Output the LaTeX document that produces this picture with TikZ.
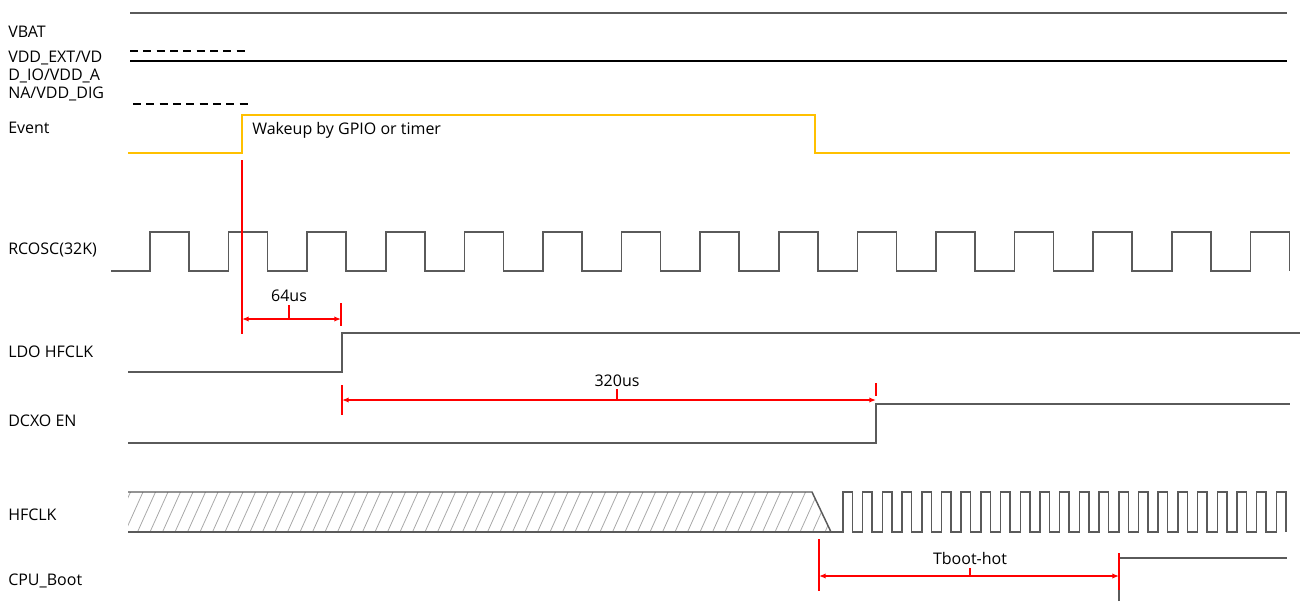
\documentclass[tikz,border=0pt]{standalone}
\usepackage{fontspec}
\setmainfont{Open Sans}
\usetikzlibrary{arrows.meta}
\definecolor{sig}{HTML}{5A5A5A}
\definecolor{evt}{HTML}{FFC000}
\definecolor{meas}{HTML}{FF0000}
\definecolor{hatchgray}{HTML}{A8A8A8}
\begin{document}
\begin{tikzpicture}[
    x=0.75pt, y=-0.75pt,
    font=\fontsize{12}{13.5}\selectfont,
    signame/.style={
      anchor=west,
      inner sep=0pt,
      align=left
    },
    wave/.style={draw=sig, line width=1.1pt},
    evtwave/.style={draw=evt, line width=1.1pt},
    dimline/.style={
      draw=meas,
      line width=1.1pt,
      {Latex[length=5pt,width=4pt]}-{Latex[length=5pt,width=4pt]}
    },
    dimtick/.style={draw=meas, line width=1.1pt}
  ]
    \useasboundingbox (0,0) rectangle (1303,601);

    % signal names
    \node (vbat) at (8,32) [signame] {VBAT};
    \node (vdd) at (8,76) [signame] {VDD\_EXT/VD\\D\_IO/VDD\_A\\NA/VDD\_DIG};
    \node (event) at (8,128) [signame] {Event};
    \node (rcosc) at (8,250) [signame] {RCOSC(32K)};
    \node (ldo) at (8,352) [signame] {LDO HFCLK};
    \node (dcxo) at (8,421) [signame] {DCXO EN};
    \node (hfclk) at (8,515) [signame] {HFCLK};
    \node (cpu) at (8,581) [signame] {CPU\_Boot};

    % supplies
    \draw[wave, line width=1.5pt] (130,13) -- (1287,13);
    \draw[black, line width=0.8pt, dash pattern=on 6pt off 4pt] (130,51) -- (248,51);
    \draw[black, line width=0.8pt] (130,61) -- (1287,61);
    \draw[black, line width=0.8pt, dash pattern=on 6pt off 4pt] (133,104) -- (252,104);

    % wakeup event
    \draw[evtwave] (128,153) -- (242,153) -- (242,115) -- (815,115) -- (815,153) -- (1290,153);
    \node (wakeup) at (252,130) [signame] {Wakeup by GPIO or timer};

    % 32K clock
    \draw[wave] (111,271)
      \foreach \k in {0,...,14}{ -- ({150+78.6*\k},271) -- ++(0,-39) -- ++(39,0) -- ++(0,39) };

    % LDO and DCXO
    \draw[wave] (128,372) -- (342,372) -- (342,333) -- (1300,333);
    \draw[wave] (128,443) -- (876,443) -- (876,404) -- (1290,404);

    % HFCLK
    \begin{scope}
      \clip (128,492) -- (812,492) -- (831,532) -- (128,532) -- cycle;
      \foreach \x in {100,112.5,...,840}
        \draw[hatchgray, line width=0.6pt] (\x,532) -- ++(18,-40);
    \end{scope}
    \draw[wave] (128,492) -- (812,492) -- (831,532);
    \draw[wave] (128,532) -- (843,532)
      \foreach \k in {0,...,22}{ -- ({843+19.7*\k},532) -- ++(0,-40) -- ++(9.5,0) -- ++(0,40) };

    % CPU boot
    \draw[wave] (1119,601) -- (1119,553) -- (1119,558) -- (1287,558);

    % timing marks
    \coordinate (wake) at (242,319);
    \coordinate (ldoup) at (341,319);
    \coordinate (ldoref) at (342,400);
    \coordinate (dcxoup) at (876,400);
    \coordinate (clkok) at (819,576);
    \coordinate (boot) at (1119,576);

    \draw[dimtick] (242,160) -- (242,334);
    \draw[dimtick] (341,303) -- (341,326);
    \draw[dimline] (wake) -- (ldoup);
    \draw[dimtick] (289,305) -- (289,319);
    \node (t64) at (289,296) {64us};

    \draw[dimtick] (342,385) -- (342,415);
    \draw[dimtick] (876,383) -- (876,396);
    \draw[dimline] (ldoref) -- (dcxoup);
    \draw[dimtick] (617,389) -- (617,400);
    \node (t320) at (617,381) {320us};

    \draw[dimtick] (819,539) -- (819,591);
    \draw[dimtick] (1119,553) -- (1119,590);
    \draw[dimline] (clkok) -- (boot);
    \draw[dimtick] (970,568) -- (970,576);
    \node (tboot) at (970,558) {Tboot-hot};

\end{tikzpicture}
\end{document}
